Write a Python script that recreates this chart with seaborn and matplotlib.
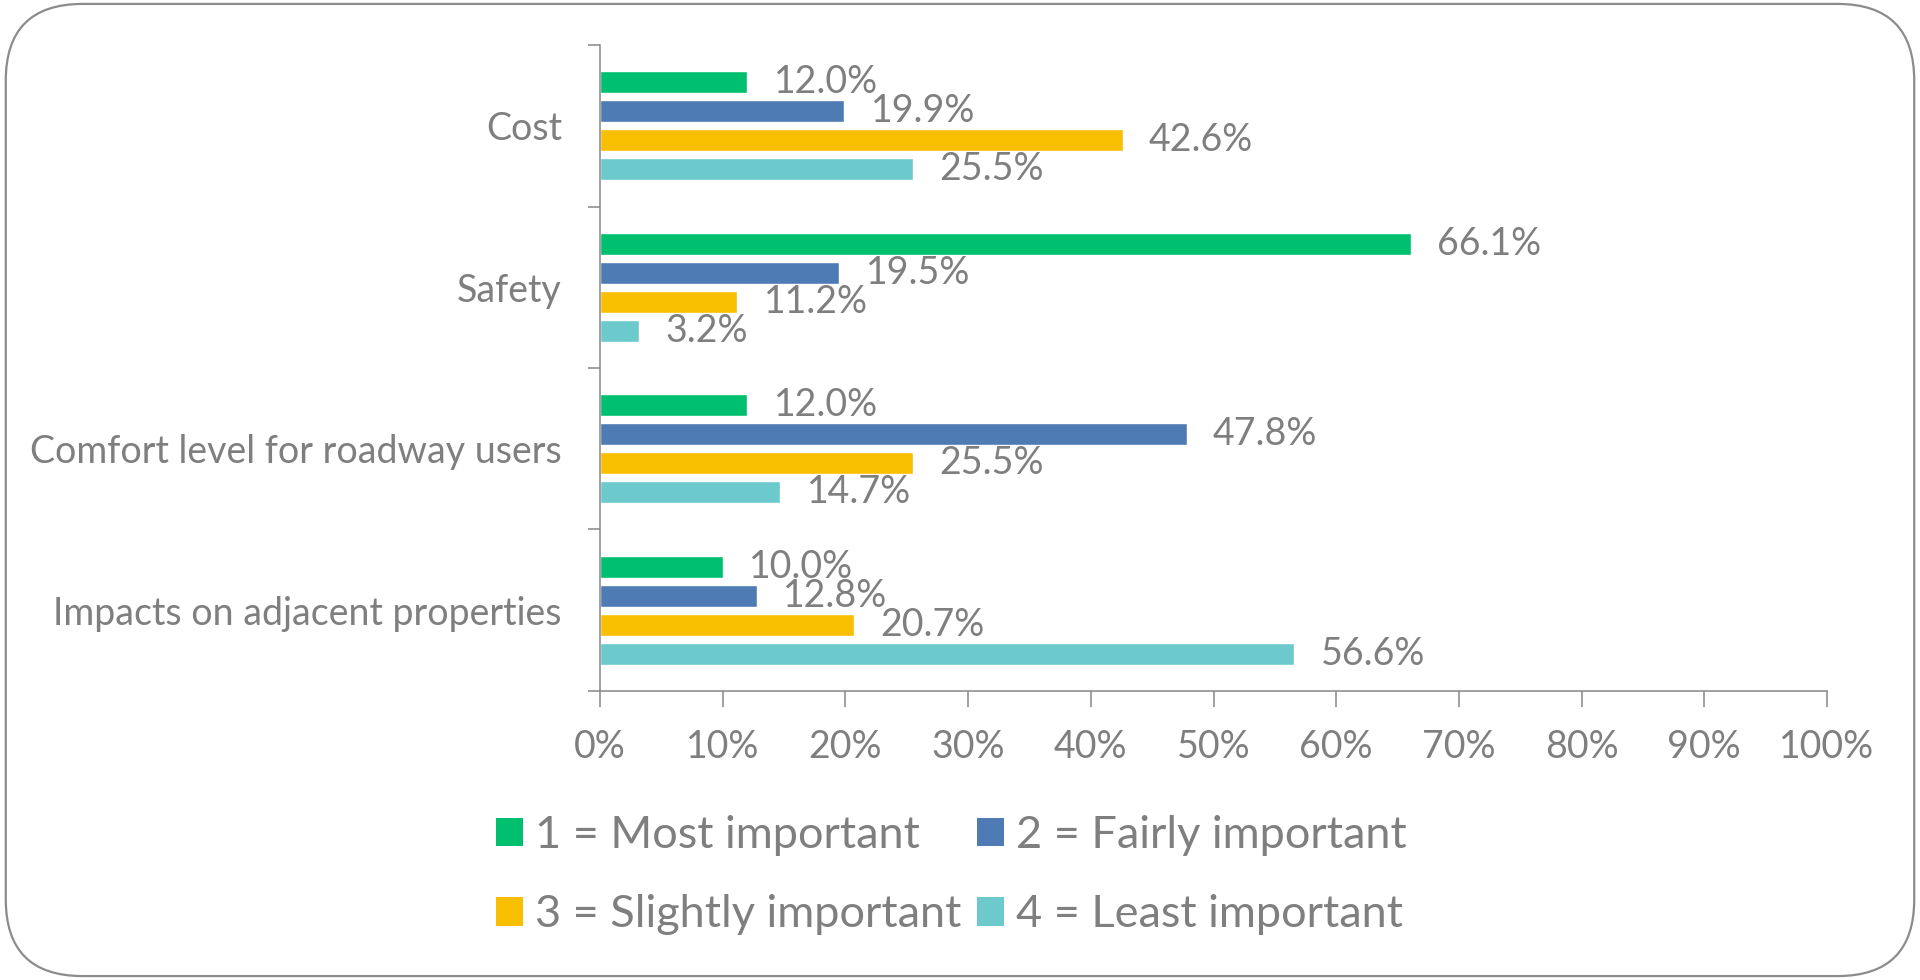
import pandas as pd
import matplotlib.pyplot as plt
import seaborn as sns
from matplotlib.patches import FancyBboxPatch, Patch
from matplotlib.ticker import FixedLocator, FuncFormatter

sns.set_theme(style="white")
plt.rcParams['font.family'] = ['Lato', 'DejaVu Sans']

# data
factors = ['Cost', 'Safety', 'Comfort level for roadway users', 'Impacts on adjacent properties']
ranks = ['1 = Most important', '2 = Fairly important', '3 = Slightly important', '4 = Least important']
most = [12.0, 66.1, 12.0, 10.0]
fairly = [19.9, 19.5, 47.8, 12.8]
slightly = [42.6, 11.2, 25.5, 20.7]
least = [25.5, 3.2, 14.7, 56.6]

colors = ['#00BF6F', '#4F7BB5', '#F8BE00', '#6CC9CC']
grey_txt = '#7F7F7F'
grey_ax = '#868686'
fs = 27
fs_leg = 32.5

# long format for seaborn
rows = []
for rk, vals in zip(ranks, [most, fairly, slightly, least]):
    for f, v in zip(factors, vals):
        rows.append({'factor': f, 'rank': rk, 'pct': v})
df = pd.DataFrame(rows)

fig = plt.figure(figsize=(19.2, 9.8), dpi=100)
ax = fig.add_axes([600 / 1920, 0.295, (1827 - 600) / 1920, 0.954 - 0.295])

sns.barplot(data=df, y='factor', x='pct', hue='rank', orient='h',
            palette=colors, saturation=1, width=0.72, gap=0.24, ax=ax,
            legend=False, order=factors, hue_order=ranks)

for c in ax.containers:
    ax.bar_label(c, labels=[f"{b.get_width():.1f}%" for b in c],
                 padding=19, fontsize=fs, color=grey_txt)

ax.set_xlim(0, 100)
ax.set_ylim(3.5, -0.5)
ax.xaxis.set_major_locator(FixedLocator(range(0, 101, 10)))
ax.xaxis.set_major_formatter(FuncFormatter(lambda x, p: f"{x:.0f}%"))
ax.yaxis.set_minor_locator(FixedLocator([-0.5, 0.5, 1.5, 2.5, 3.5]))
ax.tick_params(axis='x', which='major', length=11.5, width=1.1, color=grey_ax,
               labelsize=fs, labelcolor=grey_txt, pad=16, direction='out', bottom=True)
ax.tick_params(axis='y', which='major', length=0, labelsize=fs, labelcolor=grey_txt, pad=27.5)
ax.tick_params(axis='y', which='minor', length=9, width=1.1, color=grey_ax, left=True, direction='out')
ax.set_xlabel('')
ax.set_ylabel('')

sns.despine(ax=ax)
for s in ['left', 'bottom']:
    ax.spines[s].set_color(grey_ax)
    ax.spines[s].set_linewidth(1.1)

# legend, laid out 2 x 2 row-wise
handles = [Patch(facecolor=c, edgecolor='none') for c in colors]
order = [0, 2, 1, 3]
fig.legend([handles[i] for i in order], [ranks[i] for i in order],
           ncol=2, loc='center', bbox_to_anchor=(777 / 1568, 0.107),
           frameon=False, fontsize=fs_leg, labelcolor=grey_txt,
           handlelength=0.6, handleheight=0.6, handletextpad=0.27,
           columnspacing=0.33, labelspacing=0.85)

# rounded frame around the whole chart
frame = FancyBboxPatch((0.003, 0.004), 0.994, 0.992,
                       boxstyle="round,pad=0,rounding_size=0.04",
                       transform=fig.transFigure, facecolor='none',
                       edgecolor='#8C8C8C', linewidth=1.6, mutation_aspect=1920 / 980)
fig.patches.append(frame)

fig.savefig('out.png', dpi=100)
